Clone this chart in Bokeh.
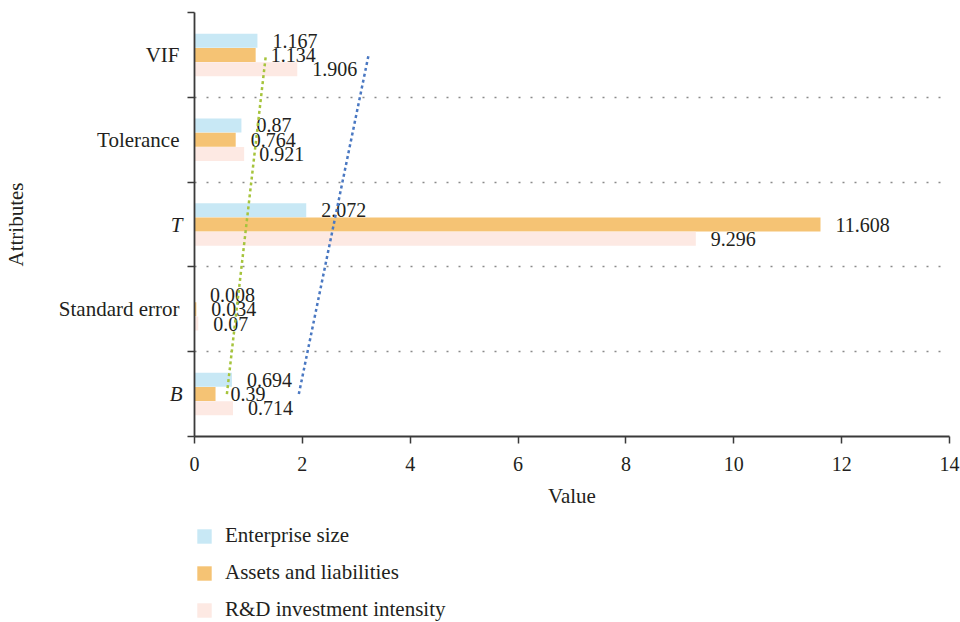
import numpy as np
from bokeh.plotting import figure
from bokeh.layouts import column
from bokeh.models import (ColumnDataSource, FixedTicker, Range1d, Legend,
                          LegendItem, LinearAxis)
from bokeh.core.properties import value
from bokeh.embed import file_html
from bokeh.resources import INLINE

# ---------------- data ----------------
categories = ["B", "Standard error", "T", "Tolerance", "VIF"]
italic_categories = ["B", "T"]
series_names = ["Enterprise size", "Assets and liabilities", "R&D investment intensity"]
enterprise_size = [0.694, 0.008, 2.072, 0.87, 1.167]
assets_liabilities = [0.39, 0.034, 11.608, 0.764, 1.134]
rd_intensity = [0.714, 0.07, 9.296, 0.921, 1.906]
x_ticks = [0, 2, 4, 6, 8, 10, 12, 14]

# ---------------- style ----------------
FONT = "Liberation Serif"
FS_NUM = "20px"
FS_TXT = "21px"
TEXT = "#231f20"
AXIS = "#3a3a3a"
bar_colors = ["#c8e8f5", "#f5c374", "#fde9e3"]
trend_colors = {"Enterprise size": "#a6c43c", "R&D investment intensity": "#4a78c2"}

W = 960
H_MAIN = 516
H_LEG = 106

n = len(categories)
centers = [i + 0.5 for i in range(n)]
boundaries = [float(i) for i in range(n + 1)]

p = figure(width=W, height=H_MAIN, output_backend="svg", toolbar_location=None,
           x_range=Range1d(0, 14), y_range=Range1d(0, n),
           min_border_left=193, min_border_right=11, min_border_top=12,
           min_border_bottom=H_MAIN - 436)
p.outline_line_color = None
p.xgrid.visible = False

series_values = [enterprise_size, assets_liabilities, rd_intensity]
BAR_H = 0.165
STEP = 0.168
for i, (name, vals, col) in enumerate(zip(series_names, series_values, bar_colors)):
    ys = [c + (1 - i) * STEP for c in centers]
    src = ColumnDataSource(dict(y=ys, right=vals, label=[str(v) for v in vals]))
    p.hbar(y="y", left=0, right="right", height=BAR_H, source=src,
           fill_color=col, line_color=None)
    p.text(x="right", y="y", text="label", source=src, x_offset=15,
           text_baseline="middle", text_align="left",
           text_font=value(FONT), text_font_size=FS_NUM, text_color=TEXT)

# linear trend lines (fit across categories)
idx = np.arange(n)
for name, vals in zip(series_names, series_values):
    if name in trend_colors:
        k, b = np.polyfit(idx, vals, 1)
        xs = [b + k * idx[0], b + k * idx[-1]]
        ys = [centers[0], centers[-1]]
        p.line(xs, ys, line_color=trend_colors[name], line_width=2.5,
               line_dash="3 3")

# ---- y axes ----
# inner axis (next to the frame): axis line, ticks at category boundaries,
# italic category names (B, T)
it_centers = [c for c, cat in zip(centers, categories) if cat in italic_categories]
up_centers = [c for c, cat in zip(centers, categories) if cat not in italic_categories]

ya = p.yaxis[0]
ya.ticker = FixedTicker(ticks=it_centers, minor_ticks=boundaries)
ya.major_label_overrides = {c: cat for c, cat in zip(centers, categories)
                            if cat in italic_categories}
ya.major_tick_line_color = None
ya.major_tick_out = 0
ya.major_tick_in = 0
ya.minor_tick_out = 7
ya.minor_tick_in = 0
ya.minor_tick_line_color = AXIS
ya.minor_tick_line_width = 1.5
ya.major_label_standoff = 5
ya.major_label_text_font = FONT
ya.major_label_text_font_size = FS_TXT
ya.major_label_text_font_style = "italic"
ya.major_label_text_color = TEXT
ya.axis_line_color = AXIS
ya.axis_line_width = 1.8

# outer axis: upright category names and the axis title
ya2 = LinearAxis(ticker=FixedTicker(ticks=up_centers, minor_ticks=[]),
                 major_label_overrides={c: cat for c, cat in zip(centers, categories)
                                        if cat not in italic_categories},
                 axis_line_color=None, major_tick_line_color=None,
                 minor_tick_line_color=None, major_tick_out=0, major_tick_in=0,
                 minor_tick_out=0, minor_tick_in=0,
                 major_label_standoff=-13,
                 major_label_text_font=FONT, major_label_text_font_size=FS_TXT,
                 major_label_text_color=TEXT,
                 axis_label="Attributes", axis_label_standoff=28,
                 axis_label_text_font=FONT, axis_label_text_font_size=FS_TXT,
                 axis_label_text_font_style="normal", axis_label_text_color=TEXT)
p.add_layout(ya2, "left")

# ---- x axis ----
xa = p.xaxis[0]
xa.ticker = FixedTicker(ticks=x_ticks, minor_ticks=[])
xa.major_tick_out = 7
xa.major_tick_in = 0
xa.major_tick_line_color = AXIS
xa.major_tick_line_width = 1.5
xa.axis_line_color = AXIS
xa.axis_line_width = 1.8
xa.major_label_standoff = 13
xa.major_label_text_font = FONT
xa.major_label_text_font_size = FS_NUM
xa.major_label_text_color = TEXT
xa.axis_label = "Value"
xa.axis_label_standoff = 10
xa.axis_label_text_font = FONT
xa.axis_label_text_font_size = FS_TXT
xa.axis_label_text_font_style = "normal"
xa.axis_label_text_color = TEXT

p.ygrid.ticker = FixedTicker(ticks=boundaries)
p.ygrid.grid_line_color = "#8a8a8a"
p.ygrid.grid_line_dash = "2 10"
p.ygrid.grid_line_width = 1.5

# ---------------- legend (own strip below the chart) ----------------
lg = figure(width=W, height=H_LEG, output_backend="svg", toolbar_location=None,
            x_range=Range1d(0, 1), y_range=Range1d(0, 1),
            min_border_left=0, min_border_right=0, min_border_top=0,
            min_border_bottom=0)
lg.axis.visible = False
lg.grid.visible = False
lg.outline_line_color = None
items = []
for name, col in zip(series_names, bar_colors):
    # swatch-only renderer (zero-length bar outside the strip's range)
    r = lg.hbar(y=[-1], left=[0], right=[0], height=0.1,
                fill_color=col, line_color=None)
    items.append(LegendItem(label=name, renderers=[r]))
legend = Legend(items=items, location=(1, 0), orientation="vertical",
                glyph_width=18, glyph_height=18, label_standoff=12,
                spacing=12, padding=0, margin=0,
                border_line_color=None, background_fill_alpha=0,
                label_text_font=FONT, label_text_font_size=FS_TXT,
                label_text_color=TEXT)
lg.add_layout(legend)

layout = column(p, lg, spacing=0)

with open("out.html", "w") as f:
    f.write(file_html(layout, INLINE))
